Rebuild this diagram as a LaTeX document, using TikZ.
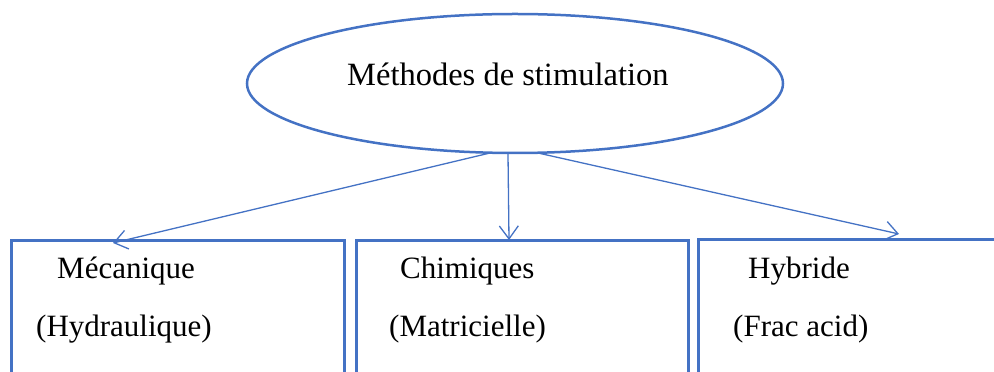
\documentclass[tikz,border=0pt]{standalone}
\usepackage{fontspec}
\setmainfont{Liberation Serif}
\usetikzlibrary{shapes.geometric,arrows.meta,calc}
\definecolor{lineblue}{RGB}{68,114,196}
\begin{document}
\begin{tikzpicture}[x=1pt,y=1pt,
  lbl/.style={inner sep=0pt,anchor=base west,font=\fontsize{31}{36}\selectfont},
  boxshape/.style={draw=lineblue,line width=2.8pt,rectangle,inner sep=0pt,anchor=north west,minimum height=160pt},
  conn/.style={draw=lineblue,line width=1.3pt,-{Straight Barb[length=13pt,width=19pt,line width=1.3pt]}}]
\useasboundingbox (0,0) rectangle (994,372);
\clip (0,0) rectangle (994,372);
\node[draw=lineblue,line width=2.5pt,ellipse,inner sep=0pt,minimum width=536pt,minimum height=139pt] (top) at (515,288.5) {};
\node[lbl,font=\fontsize{32.5}{38}\selectfont] (toptext) at (347,286) {Méthodes de stimulation};
\node[boxshape,minimum width=333pt] (b1) at (10,133) {};
\node[boxshape,minimum width=332pt] (b2) at (355,133) {};
\node[boxshape,minimum width=320pt] (b3) at (697,134) {};
\node[lbl] (t1a) at (57,93) {Mécanique};
\node[lbl] (t1b) at (36,35) {(Hydraulique)};
\node[lbl] (t2a) at (400,93) {Chimiques};
\node[lbl] (t2b) at (389,35) {(Matricielle)};
\node[lbl] (t3a) at (748,93) {Hybride};
\node[lbl] (t3b) at (733,35) {(Frac acid)};
\coordinate (s1) at (490,219);
\coordinate (s2) at (508,218);
\coordinate (s3) at (538,219);
\coordinate (e1) at (113,129);
\coordinate (e2) at (509,132);
\coordinate (e3) at (899,138);
\draw[conn] (s1) -- (e1);
\draw[conn] (s2) -- (e2);
\draw[conn] (s3) -- (e3);
\end{tikzpicture}
\end{document}
